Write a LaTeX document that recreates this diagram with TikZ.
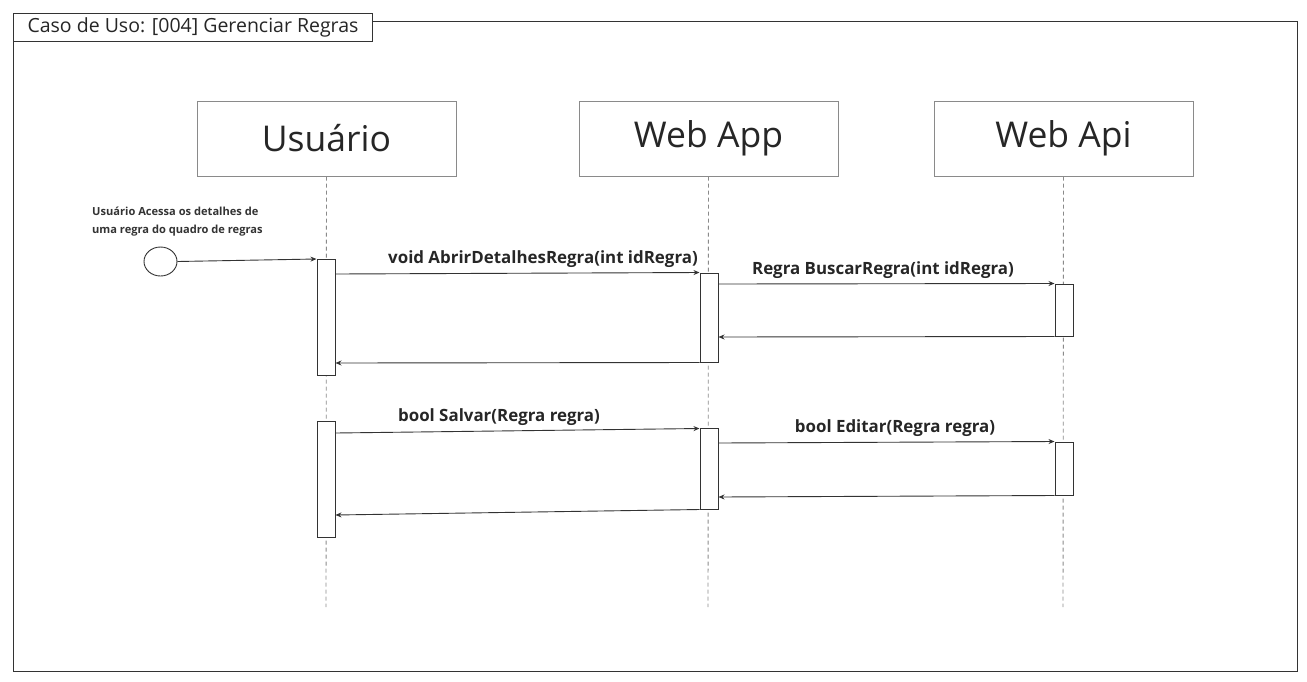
\documentclass[tikz,border=0pt]{standalone}
\usepackage{fontspec}
\setmainfont{Open Sans}
\usetikzlibrary{arrows.meta,shapes.geometric}
\definecolor{ln}{HTML}{333333}
\definecolor{gl}{HTML}{8A8A8A}
\tikzset{
  x=1pt,y=-1pt,
  headbox/.style={draw=gl,line width=1pt,fill=white,minimum width=259pt,minimum height=75pt,inner sep=0pt,font=\fontsize{35.5}{38}\selectfont,text=black!85},
  actbox/.style={draw=ln,line width=1pt,fill=white,minimum width=18pt,inner sep=0pt},
  lifeline/.style={draw=gl,line width=0.9pt,dash pattern=on 4pt off 3pt},
  msg/.style={draw=ln,line width=0.9pt,-{Stealth[length=6pt,width=5pt]}},
  msglabel/.style={font=\bfseries\fontsize{16.9}{19}\selectfont,text=black!85,inner sep=0pt},
}
\begin{document}
\begin{tikzpicture}
\useasboundingbox (0,0) rectangle (1307,681);
% frame
\node[draw=ln,line width=1pt,minimum width=1284pt,minimum height=650pt,anchor=north west,inner sep=0pt] (frame) at (13,21) {};
\node[draw=ln,line width=1pt,fill=white,minimum width=359pt,minimum height=28pt,anchor=north west,inner sep=0pt,font=\fontsize{19.5}{22}\selectfont,text=black!85] (title) at (13,13) {Caso de Uso: [004] Gerenciar Regras};
% heads
\node[headbox] (u) at (326.5,138.5) {Usuário};
\node[headbox] (wa) at (708.5,138.5) {Web App};
\node[headbox] (wp) at (1063.5,138.5) {Web Api};
% lifeline ends
\coordinate (ue) at (326,607);
\coordinate (wae) at (708,607);
\coordinate (wpe) at (1063,607);
\draw[lifeline] (u.south) -- (ue);
\draw[lifeline] (wa.south) -- (wae);
\draw[lifeline] (wp.south) -- (wpe);
% activations
\node[actbox,minimum height=116pt] (ua1) at (326,317.5) {};
\node[actbox,minimum height=116pt] (ua2) at (326,479) {};
\node[actbox,minimum height=89pt] (wa1) at (709,317.5) {};
\node[actbox,minimum height=81pt] (wa2) at (709,468.5) {};
\node[actbox,minimum height=52pt] (wp1) at (1064,310) {};
\node[actbox,minimum height=53pt] (wp2) at (1064,468.5) {};
% start
\node[draw=ln,line width=0.9pt,ellipse,minimum width=33pt,minimum height=29pt,inner sep=0pt] (start) at (160.5,261.5) {};
\node[anchor=north west,align=left,font=\bfseries\fontsize{11.1}{17.5}\selectfont,text=black!80,inner sep=0pt] (note) at (92,207) {Usuário Acessa os detalhes de\\uma regra do quadro de regras};
\draw[msg] (start.east) -- (ua1.north west);
% messages
\draw[msg] (ua1.north east |- 0,274) -- (wa1.north west);
\node[msglabel] (l1) at (543,259) {void AbrirDetalhesRegra(int idRegra)};
\draw[msg] (wa1.south west) -- (ua1.east |- 0,363);
\draw[msg] (wa1.east |- 0,284) -- (wp1.north west);
\node[msglabel] (l2) at (883,270) {Regra BuscarRegra(int idRegra)};
\draw[msg] (wp1.south west) -- (wa1.east |- 0,337);
\draw[msg] (ua2.east |- 0,433) -- (wa2.west |- 0,428.5);
\node[msglabel] (l3) at (499,417) {bool Salvar(Regra regra)};
\draw[msg] (wa2.south west) -- (ua2.east |- 0,515);
\draw[msg] (wa2.east |- 0,443) -- (wp2.north west);
\node[msglabel] (l4) at (895,428) {bool Editar(Regra regra)};
\draw[msg] (wp2.south west) -- (wa2.east |- 0,497);
\end{tikzpicture}
\end{document}
